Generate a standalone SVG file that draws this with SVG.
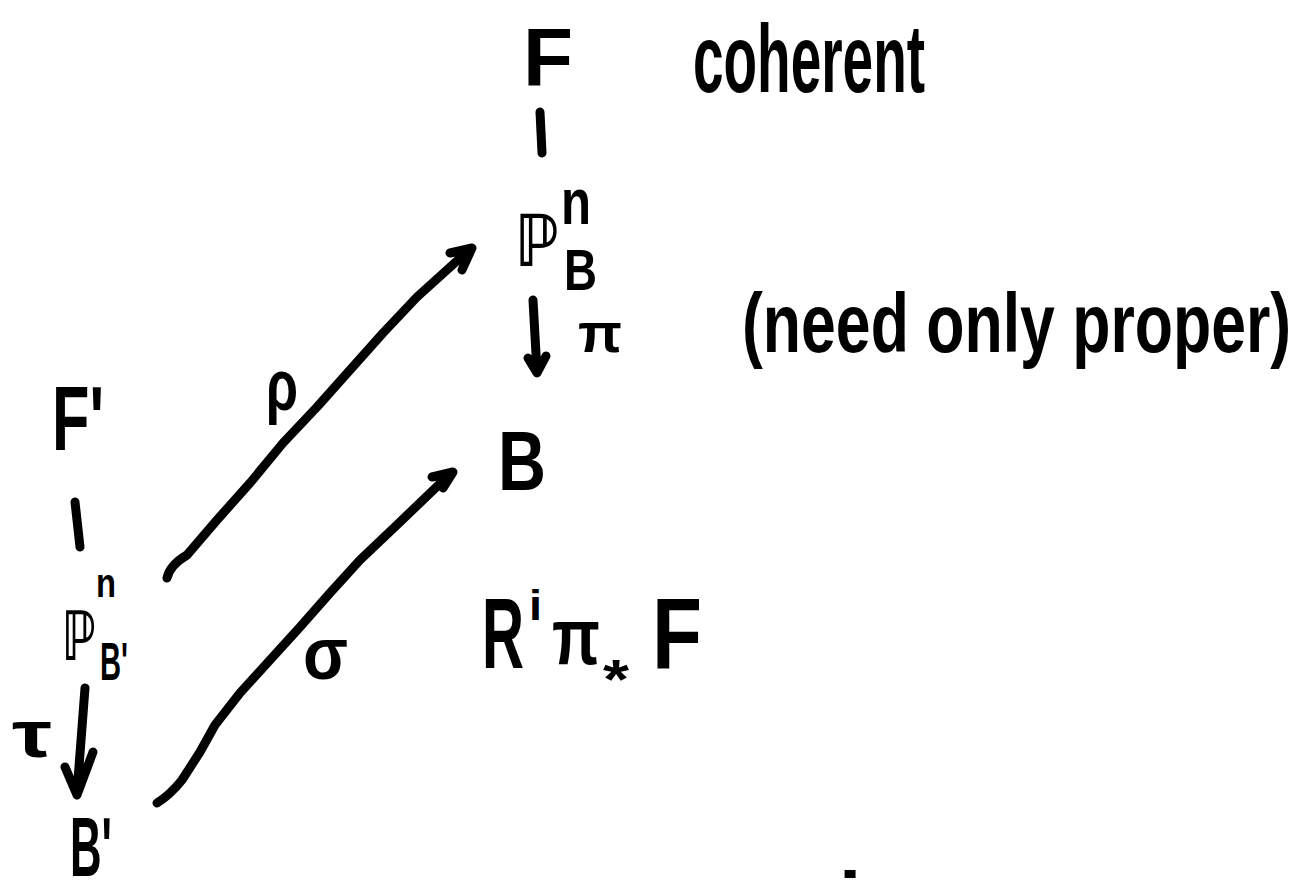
<svg xmlns="http://www.w3.org/2000/svg" width="1310" height="885" viewBox="0 0 1310 885">
<style>
.t{font-family:"Liberation Sans","DejaVu Sans",sans-serif;font-weight:bold;fill:#000}
.bb{font-family:"DejaVu Sans",sans-serif;font-weight:bold;fill:#000}
.s{fill:none;stroke:#000;stroke-width:9;stroke-linecap:round;stroke-linejoin:round}
</style>
<rect width="1310" height="885" fill="#fff"/>
<g id="F_top"><text class="t" x="523" y="86" font-size="82" textLength="50" lengthAdjust="spacingAndGlyphs">F</text></g>
<g id="coherent"><text class="t" x="693" y="92" font-size="96" textLength="232" lengthAdjust="spacingAndGlyphs">coherent</text></g>
<g id="PnB"><text class="bb" x="515" y="266" font-size="72" textLength="44" lengthAdjust="spacingAndGlyphs">ℙ</text><text class="t" x="561" y="224" font-size="64" textLength="30" lengthAdjust="spacingAndGlyphs">n</text><text class="t" x="564" y="290" font-size="58" textLength="33" lengthAdjust="spacingAndGlyphs">B</text></g>
<g id="need"><text class="t" transform="translate(742,352) scale(0.745,1)" x="0" y="0" font-size="84">(need only proper)</text></g>
<g id="B"><text class="t" x="498" y="490" font-size="84" textLength="48" lengthAdjust="spacingAndGlyphs">B</text></g>
<g id="Fprime"><text class="t" x="52" y="450" font-size="90" textLength="52" lengthAdjust="spacingAndGlyphs">F'</text></g>
<g id="PnBprime"><text class="bb" x="62" y="660" font-size="68" textLength="34" lengthAdjust="spacingAndGlyphs">ℙ</text><text class="t" x="96" y="597" font-size="40" textLength="20" lengthAdjust="spacingAndGlyphs">n</text><text class="t" x="100" y="680" font-size="54" textLength="28" lengthAdjust="spacingAndGlyphs">B'</text></g>
<g id="Bprime"><text class="t" x="70" y="876" font-size="84" textLength="42" lengthAdjust="spacingAndGlyphs">B'</text></g>
<g id="RiF"><text class="t" x="482" y="668" font-size="100" textLength="42" lengthAdjust="spacingAndGlyphs">R</text><text class="t" x="529" y="620" font-size="42" textLength="13" lengthAdjust="spacingAndGlyphs">i</text><text class="t" x="552" y="664" font-size="80" textLength="48" lengthAdjust="spacingAndGlyphs">π</text><text class="t" x="603" y="698" font-size="56" textLength="26" lengthAdjust="spacingAndGlyphs">*</text><text class="t" x="652" y="668" font-size="100" textLength="50" lengthAdjust="spacingAndGlyphs">F</text></g>
<g id="bottom_i"><text class="t" x="839" y="928" font-size="80">i</text></g>
<g id="connectors">
<path class="s" d="M540 112 L542 153"/>
<path class="s" d="M533 300 L537 372 M528 358 L537 373 L546 356"/>
<path class="s" d="M75 502 L80 547"/>
<path class="s" d="M85 688 L77 793 M65 767 L77 795 L93 752"/>
<path class="s" d="M167 578 Q170 565 187 555 L217 520 L250 483 L283 443 L317 407 L350 370 L383 333 L417 297 L468 251 M450 253 L472 248 L462 270"/>
<path class="s" d="M157 803 Q170 795 182 780 L200 752 L215 725 L240 693 L270 660 L300 627 L330 593 L360 560 L400 522 L450 474 M432 477 L453 472 L443 488"/>
</g>
<g id="labels">
<text class="t" x="266" y="410" font-size="72" textLength="32" lengthAdjust="spacingAndGlyphs">ρ</text>
<text class="t" x="578" y="352" font-size="56" textLength="44" lengthAdjust="spacingAndGlyphs">π</text>
<text class="t" x="12" y="757" font-size="66" textLength="40" lengthAdjust="spacingAndGlyphs">τ</text>
<text class="t" x="303" y="679" font-size="74" textLength="45" lengthAdjust="spacingAndGlyphs">σ</text>
</g>
</svg>
